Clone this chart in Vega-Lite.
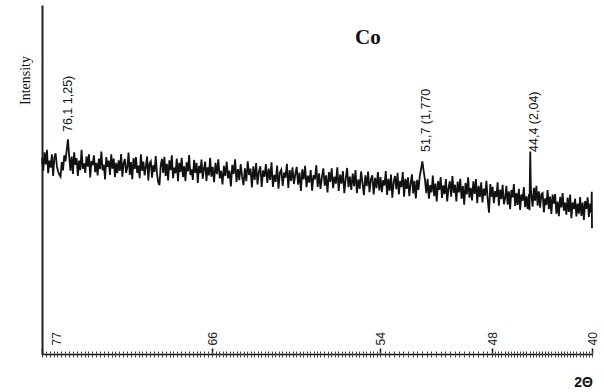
{
  "$schema": "https://vega.github.io/schema/vega-lite/v6.json",
  "autosize": "none",
  "padding": {"left": 42, "top": 5, "right": 12, "bottom": 38},
  "width": 550,
  "height": 349,
  "background": "white",
  "title": {"text": "Co", "anchor": "start", "frame": "group", "orient": "top", "offset": 0, "dx": 313, "dy": 60, "baseline": "alphabetic", "font": "Liberation Serif", "fontSize": 21, "fontWeight": "bold", "color": "#111"},
  "config": {"view": {"stroke": null}},
  "datasets": {
    "trace": [
      {"t":77.00,"i":56.1},{"t":76.92,"i":52.5},{"t":76.84,"i":57.8},{"t":76.76,"i":54.3},{"t":76.68,"i":58.5},{"t":76.60,"i":51.8},{"t":76.52,"i":55.4},{"t":76.44,"i":53.4},{"t":76.36,"i":57.2},{"t":76.28,"i":51.0},{"t":76.20,"i":56.3},{"t":76.12,"i":57.5},{"t":76.04,"i":53.9},
      {"t":75.96,"i":52.3},{"t":75.88,"i":51.4},{"t":75.80,"i":50.8},{"t":75.72,"i":55.0},{"t":75.64,"i":52.6},{"t":75.56,"i":56.9},{"t":75.48,"i":55.2},{"t":75.40,"i":58.5},{"t":75.32,"i":61.5},{"t":75.24,"i":56.5},{"t":75.16,"i":52.5},{"t":75.08,"i":56.6},
      {"t":75.00,"i":51.6},{"t":74.92,"i":57.8},{"t":74.84,"i":54.2},{"t":74.76,"i":56.1},{"t":74.68,"i":51.0},{"t":74.60,"i":55.4},{"t":74.52,"i":52.7},{"t":74.44,"i":58.5},{"t":74.36,"i":53.1},{"t":74.28,"i":54.6},{"t":74.20,"i":51.9},{"t":74.12,"i":56.6},{"t":74.04,"i":53.7},
      {"t":73.96,"i":57.2},{"t":73.88,"i":50.6},{"t":73.80,"i":55.3},{"t":73.72,"i":54.1},{"t":73.64,"i":56.9},{"t":73.56,"i":52.1},{"t":73.48,"i":54.8},{"t":73.40,"i":51.2},{"t":73.32,"i":56.0},{"t":73.24,"i":53.0},{"t":73.16,"i":58.0},{"t":73.08,"i":52.6},
      {"t":73.00,"i":54.3},{"t":72.92,"i":50.0},{"t":72.84,"i":56.4},{"t":72.76,"i":53.6},{"t":72.68,"i":55.4},{"t":72.60,"i":51.3},{"t":72.52,"i":57.2},{"t":72.44,"i":53.1},{"t":72.36,"i":56.0},{"t":72.28,"i":50.7},{"t":72.20,"i":54.8},{"t":72.12,"i":51.8},{"t":72.04,"i":55.5},
      {"t":71.96,"i":52.5},{"t":71.88,"i":57.3},{"t":71.80,"i":50.8},{"t":71.72,"i":54.7},{"t":71.64,"i":55.9},{"t":71.56,"i":51.9},{"t":71.48,"i":53.5},{"t":71.40,"i":57.7},{"t":71.32,"i":51.3},{"t":71.24,"i":55.0},{"t":71.16,"i":50.1},{"t":71.08,"i":56.1},
      {"t":71.00,"i":53.0},{"t":70.92,"i":56.4},{"t":70.84,"i":51.9},{"t":70.76,"i":54.0},{"t":70.68,"i":50.4},{"t":70.60,"i":57.2},{"t":70.52,"i":52.5},{"t":70.44,"i":55.1},{"t":70.36,"i":51.2},{"t":70.28,"i":53.7},{"t":70.20,"i":56.6},{"t":70.12,"i":49.7},{"t":70.04,"i":54.6},
      {"t":69.96,"i":55.2},{"t":69.88,"i":50.5},{"t":69.80,"i":54.1},{"t":69.72,"i":52.2},{"t":69.64,"i":56.7},{"t":69.56,"i":51.6},{"t":69.48,"i":49.2},{"t":69.40,"i":48.4},{"t":69.32,"i":54.0},{"t":69.24,"i":55.9},{"t":69.16,"i":51.9},{"t":69.08,"i":56.5},
      {"t":69.00,"i":51.0},{"t":68.92,"i":54.5},{"t":68.84,"i":49.7},{"t":68.76,"i":55.5},{"t":68.68,"i":52.7},{"t":68.60,"i":56.9},{"t":68.52,"i":50.4},{"t":68.44,"i":53.4},{"t":68.36,"i":51.8},{"t":68.28,"i":56.0},{"t":68.20,"i":49.5},{"t":68.12,"i":54.8},{"t":68.04,"i":52.2},
      {"t":67.96,"i":56.2},{"t":67.88,"i":50.7},{"t":67.80,"i":53.8},{"t":67.72,"i":49.6},{"t":67.64,"i":54.9},{"t":67.56,"i":52.3},{"t":67.48,"i":57.0},{"t":67.40,"i":51.3},{"t":67.32,"i":52.9},{"t":67.24,"i":49.9},{"t":67.16,"i":55.6},{"t":67.08,"i":51.9},
      {"t":67.00,"i":54.8},{"t":66.92,"i":49.0},{"t":66.84,"i":53.9},{"t":66.76,"i":51.8},{"t":66.68,"i":55.7},{"t":66.60,"i":50.2},{"t":66.52,"i":53.2},{"t":66.44,"i":55.1},{"t":66.36,"i":49.6},{"t":66.28,"i":53.5},{"t":66.20,"i":51.2},{"t":66.12,"i":56.2},{"t":66.04,"i":50.8},
      {"t":65.95,"i":53.6},{"t":65.85,"i":49.2},{"t":65.75,"i":54.8},{"t":65.65,"i":51.5},{"t":65.55,"i":55.8},{"t":65.45,"i":50.3},{"t":65.35,"i":52.5},{"t":65.25,"i":48.6},{"t":65.15,"i":53.9},{"t":65.05,"i":51.0},
      {"t":64.95,"i":55.1},{"t":64.85,"i":50.3},{"t":64.75,"i":52.5},{"t":64.65,"i":48.0},{"t":64.55,"i":54.2},{"t":64.45,"i":51.6},{"t":64.35,"i":55.8},{"t":64.25,"i":49.3},{"t":64.15,"i":53.0},{"t":64.05,"i":49.8},
      {"t":63.95,"i":54.4},{"t":63.85,"i":50.8},{"t":63.75,"i":48.4},{"t":63.65,"i":53.2},{"t":63.55,"i":49.5},{"t":63.45,"i":55.2},{"t":63.35,"i":51.3},{"t":63.25,"i":53.1},{"t":63.15,"i":47.7},{"t":63.05,"i":53.8},
      {"t":62.95,"i":49.9},{"t":62.85,"i":54.7},{"t":62.75,"i":48.6},{"t":62.65,"i":52.2},{"t":62.55,"i":53.8},{"t":62.45,"i":47.9},{"t":62.35,"i":52.6},{"t":62.25,"i":50.8},{"t":62.15,"i":54.4},{"t":62.05,"i":49.0},
      {"t":61.95,"i":53.1},{"t":61.85,"i":49.9},{"t":61.75,"i":54.9},{"t":61.65,"i":47.9},{"t":61.55,"i":51.3},{"t":61.45,"i":49.3},{"t":61.35,"i":54.0},{"t":61.25,"i":47.4},{"t":61.15,"i":52.0},{"t":61.05,"i":52.8},
      {"t":60.95,"i":48.2},{"t":60.85,"i":52.0},{"t":60.75,"i":50.5},{"t":60.65,"i":54.5},{"t":60.55,"i":47.6},{"t":60.45,"i":52.7},{"t":60.35,"i":49.6},{"t":60.25,"i":53.5},{"t":60.15,"i":48.7},{"t":60.05,"i":51.5},
      {"t":59.95,"i":53.6},{"t":59.85,"i":48.5},{"t":59.75,"i":52.0},{"t":59.65,"i":46.7},{"t":59.55,"i":52.9},{"t":59.45,"i":50.0},{"t":59.35,"i":53.9},{"t":59.25,"i":47.8},{"t":59.15,"i":51.1},{"t":59.05,"i":49.1},
      {"t":58.95,"i":52.7},{"t":58.85,"i":46.8},{"t":58.75,"i":51.2},{"t":58.65,"i":50.0},{"t":58.55,"i":54.1},{"t":58.45,"i":47.9},{"t":58.35,"i":51.8},{"t":58.25,"i":47.3},{"t":58.15,"i":50.6},{"t":58.05,"i":53.2},
      {"t":57.95,"i":48.2},{"t":57.85,"i":51.2},{"t":57.75,"i":46.3},{"t":57.65,"i":52.1},{"t":57.55,"i":49.3},{"t":57.45,"i":53.2},{"t":57.35,"i":47.5},{"t":57.25,"i":50.8},{"t":57.15,"i":48.8},{"t":57.05,"i":53.5},
      {"t":56.95,"i":46.7},{"t":56.85,"i":51.4},{"t":56.75,"i":48.8},{"t":56.65,"i":52.4},{"t":56.55,"i":46.1},{"t":56.45,"i":50.2},{"t":56.35,"i":53.3},{"t":56.25,"i":47.8},{"t":56.15,"i":50.8},{"t":56.05,"i":47.0},
      {"t":55.95,"i":51.7},{"t":55.85,"i":48.1},{"t":55.75,"i":52.7},{"t":55.65,"i":46.1},{"t":55.55,"i":50.0},{"t":55.45,"i":47.3},{"t":55.35,"i":52.3},{"t":55.25,"i":49.0},{"t":55.15,"i":45.5},{"t":55.05,"i":51.2},
      {"t":54.95,"i":48.1},{"t":54.85,"i":52.3},{"t":54.75,"i":46.4},{"t":54.65,"i":50.0},{"t":54.55,"i":51.2},{"t":54.45,"i":45.7},{"t":54.35,"i":50.5},{"t":54.25,"i":47.5},{"t":54.15,"i":52.1},{"t":54.05,"i":46.9},
      {"t":53.97,"i":50.7},{"t":53.90,"i":46.4},{"t":53.83,"i":49.8},{"t":53.76,"i":48.3},{"t":53.69,"i":52.4},{"t":53.62,"i":45.6},{"t":53.55,"i":50.2},{"t":53.48,"i":46.8},{"t":53.41,"i":51.4},{"t":53.34,"i":44.8},{"t":53.27,"i":49.2},{"t":53.20,"i":51.0},{"t":53.13,"i":47.2},{"t":53.06,"i":51.9},
      {"t":52.99,"i":45.7},{"t":52.92,"i":49.6},{"t":52.85,"i":47.8},{"t":52.78,"i":52.1},{"t":52.71,"i":45.1},{"t":52.64,"i":50.2},{"t":52.57,"i":47.3},{"t":52.50,"i":50.6},{"t":52.43,"i":45.2},{"t":52.36,"i":48.8},{"t":52.29,"i":51.5},{"t":52.22,"i":46.0},{"t":52.15,"i":49.6},{"t":52.08,"i":44.6},
      {"t":52.01,"i":49.9},{"t":51.94,"i":47.0},{"t":51.87,"i":50.9},{"t":51.80,"i":53.0},{"t":51.73,"i":55.2},{"t":51.66,"i":52.4},{"t":51.59,"i":49.8},{"t":51.52,"i":46.1},{"t":51.45,"i":50.2},{"t":51.38,"i":44.5},{"t":51.31,"i":48.4},{"t":51.24,"i":46.3},{"t":51.17,"i":51.1},{"t":51.10,"i":45.2},{"t":51.03,"i":48.8},
      {"t":50.96,"i":43.7},{"t":50.89,"i":49.5},{"t":50.82,"i":47.0},{"t":50.75,"i":50.7},{"t":50.68,"i":44.7},{"t":50.61,"i":48.3},{"t":50.54,"i":45.8},{"t":50.47,"i":50.1},{"t":50.40,"i":43.7},{"t":50.33,"i":47.5},{"t":50.26,"i":49.5},{"t":50.19,"i":45.1},{"t":50.12,"i":51.0},{"t":50.05,"i":46.2},
      {"t":49.98,"i":48.5},{"t":49.91,"i":43.7},{"t":49.84,"i":49.4},{"t":49.77,"i":46.3},{"t":49.70,"i":50.2},{"t":49.63,"i":44.5},{"t":49.56,"i":48.1},{"t":49.49,"i":42.8},{"t":49.42,"i":49.0},{"t":49.35,"i":45.7},{"t":49.28,"i":50.6},{"t":49.21,"i":44.8},{"t":49.14,"i":47.6},{"t":49.07,"i":44.0},
      {"t":49.00,"i":49.5},{"t":48.93,"i":45.9},{"t":48.86,"i":50.1},{"t":48.79,"i":43.2},{"t":48.72,"i":48.2},{"t":48.65,"i":45.0},{"t":48.58,"i":49.2},{"t":48.51,"i":43.4},{"t":48.44,"i":47.4},{"t":48.37,"i":45.4},{"t":48.30,"i":49.6},{"t":48.23,"i":44.2},{"t":48.16,"i":40.5},{"t":48.09,"i":48.7},{"t":48.02,"i":45.1},
      {"t":47.95,"i":47.9},{"t":47.85,"i":43.2},{"t":47.75,"i":46.7},{"t":47.65,"i":45.0},{"t":47.55,"i":49.2},{"t":47.45,"i":42.5},{"t":47.35,"i":47.1},{"t":47.25,"i":44.4},{"t":47.15,"i":48.5},{"t":47.05,"i":42.9},
      {"t":46.95,"i":44.6},{"t":46.85,"i":48.2},{"t":46.75,"i":42.8},{"t":46.65,"i":46.6},{"t":46.55,"i":41.5},{"t":46.45,"i":47.0},{"t":46.35,"i":44.9},{"t":46.25,"i":48.7},{"t":46.15,"i":42.4},{"t":46.05,"i":46.1},
      {"t":45.95,"i":42.7},{"t":45.85,"i":47.3},{"t":45.75,"i":41.3},{"t":45.65,"i":45.7},{"t":45.55,"i":43.9},{"t":45.45,"i":47.8},{"t":45.35,"i":42.1},{"t":45.25,"i":45.2},{"t":45.15,"i":41.6},{"t":45.05,"i":45.8},
      {"t":45.00,"i":41.2},{"t":44.97,"i":50.5},{"t":44.94,"i":58.0},{"t":44.91,"i":51.0},{"t":44.88,"i":46.5},
      {"t":44.85,"i":45.5},{"t":44.75,"i":42.2},{"t":44.65,"i":47.6},{"t":44.55,"i":43.9},{"t":44.45,"i":48.2},{"t":44.35,"i":42.5},{"t":44.25,"i":46.6},{"t":44.15,"i":41.9},{"t":44.05,"i":45.8},
      {"t":43.95,"i":46.1},{"t":43.85,"i":40.6},{"t":43.75,"i":44.6},{"t":43.65,"i":42.7},{"t":43.55,"i":47.0},{"t":43.45,"i":41.5},{"t":43.35,"i":45.1},{"t":43.25,"i":40.1},{"t":43.15,"i":45.7},{"t":43.05,"i":43.1},
      {"t":42.95,"i":45.8},{"t":42.85,"i":40.2},{"t":42.75,"i":43.7},{"t":42.65,"i":39.5},{"t":42.55,"i":45.0},{"t":42.45,"i":42.0},{"t":42.35,"i":46.1},{"t":42.25,"i":41.1},{"t":42.15,"i":43.4},{"t":42.05,"i":39.9},
      {"t":41.95,"i":44.8},{"t":41.85,"i":40.7},{"t":41.75,"i":45.7},{"t":41.65,"i":38.9},{"t":41.55,"i":43.4},{"t":41.45,"i":41.5},{"t":41.35,"i":44.5},{"t":41.25,"i":39.4},{"t":41.15,"i":43.1},{"t":41.05,"i":40.2},
      {"t":40.95,"i":45.0},{"t":40.85,"i":39.6},{"t":40.75,"i":43.4},{"t":40.65,"i":38.4},{"t":40.55,"i":43.8},{"t":40.45,"i":41.6},{"t":40.35,"i":44.9},{"t":40.25,"i":39.3},{"t":40.15,"i":43.1},{"t":40.05,"i":40.4},{"t":40.02,"i":46.5},{"t":40.00,"i":36.0}
    ],
    "peaks": [
      {"t":75.32,"i":63.6,"label":"76,1 1,25)"},
      {"t":51.54,"i":57.9,"label":"51,7 (1,770"},
      {"t":44.64,"i":57.9,"label":"44,4 (2,04)"}
    ]
  },
  "layer": [
    {
      "data": {"name": "trace"},
      "mark": {"type": "line", "color": "#111", "strokeWidth": 1.8, "interpolate": "linear"},
      "encoding": {
        "x": {
          "field": "t", "type": "quantitative",
          "scale": {"domain": [77, 66, 54, 48, 40], "range": [0, 170, 338, 450, 550], "nice": false, "zero": false},
          "axis": {
            "orient": "bottom",
            "values": [77, 66, 54, 48, 40],
            "grid": false,
            "domain": true, "domainColor": "#111", "domainWidth": 1.5,
            "ticks": true, "tickSize": -6, "tickWidth": 1.5, "tickColor": "#111",
            "labelAngle": 270, "labelAlign": "left", "labelBaseline": "middle",
            "labelPadding": -3, "labelFlush": false, "labelOverlap": false, "labelBound": false,
            "labelOffset": {"condition": {"test": "datum.value == 77", "value": 14}, "value": 0},
            "labelFont": "Liberation Sans", "labelFontSize": 12, "labelColor": "#222",
            "title": "2Θ", "titleFont": "Liberation Sans", "titleFontSize": 14, "titleFontWeight": "bold", "titleColor": "#111",
            "titleX": 541, "titleY": 28, "titleAlign": "center", "titleBaseline": "middle"
          }
        },
        "y": {
          "field": "i", "type": "quantitative",
          "scale": {"domain": [0, 100], "nice": false, "zero": false},
          "axis": {
            "orient": "left", "grid": false, "ticks": false, "labels": false,
            "domain": true, "domainColor": "#222", "domainWidth": 2,
            "title": "Intensity", "titleFont": "Liberation Serif", "titleFontSize": 14, "titleFontWeight": "normal", "titleColor": "#111",
            "titleAngle": 270, "titleX": -17, "titleY": 75, "titleAlign": "center", "titleBaseline": "middle"
          }
        }
      }
    },
    {
      "data": {"name": "peaks"},
      "mark": {"type": "text", "angle": 270, "align": "left", "baseline": "middle", "font": "Liberation Sans", "fontSize": 12.5, "color": "#111"},
      "encoding": {
        "x": {
          "field": "t", "type": "quantitative",
          "axis": {
            "orient": "bottom", "offset": -3,
            "values": [40,40.25,40.5,40.75,41,41.25,41.5,41.75,42,42.25,42.5,42.75,43,43.25,43.5,43.75,44,44.25,44.5,44.75,45,45.25,45.5,45.75,46,46.25,46.5,46.75,47,47.25,47.5,47.75,48,48.25,48.5,48.75,49,49.25,49.5,49.75,50,50.25,50.5,50.75,51,51.25,51.5,51.75,52,52.25,52.5,52.75,53,53.25,53.5,53.75,54,54.25,54.5,54.75,55,55.25,55.5,55.75,56,56.25,56.5,56.75,57,57.25,57.5,57.75,58,58.25,58.5,58.75,59,59.25,59.5,59.75,60,60.25,60.5,60.75,61,61.25,61.5,61.75,62,62.25,62.5,62.75,63,63.25,63.5,63.75,64,64.25,64.5,64.75,65,65.25,65.5,65.75,66,66.25,66.5,66.75,67,67.25,67.5,67.75,68,68.25,68.5,68.75,69,69.25,69.5,69.75,70,70.25,70.5,70.75,71,71.25,71.5,71.75,72,72.25,72.5,72.75,73,73.25,73.5,73.75,74,74.25,74.5,74.75,75,75.25,75.5,75.75,76,76.25,76.5,76.75,77],
            "grid": false, "domain": false, "labels": false, "title": null,
            "ticks": true, "tickSize": 6, "tickWidth": 1, "tickColor": "#444"
          }
        },
        "y": {
          "field": "i", "type": "quantitative",
          "axis": {
            "orient": "left", "grid": false, "ticks": false, "labels": false,
            "domain": true, "domainColor": "#222", "domainWidth": 2,
            "title": "Intensity", "titleFont": "Liberation Serif", "titleFontSize": 14, "titleFontWeight": "normal", "titleColor": "#111",
            "titleAngle": 270, "titleX": -17, "titleY": 75, "titleAlign": "center", "titleBaseline": "middle"
          }
        },
        "text": {"field": "label"}
      }
    }
  ],
  "resolve": {"axis": {"x": "independent"}}
}
